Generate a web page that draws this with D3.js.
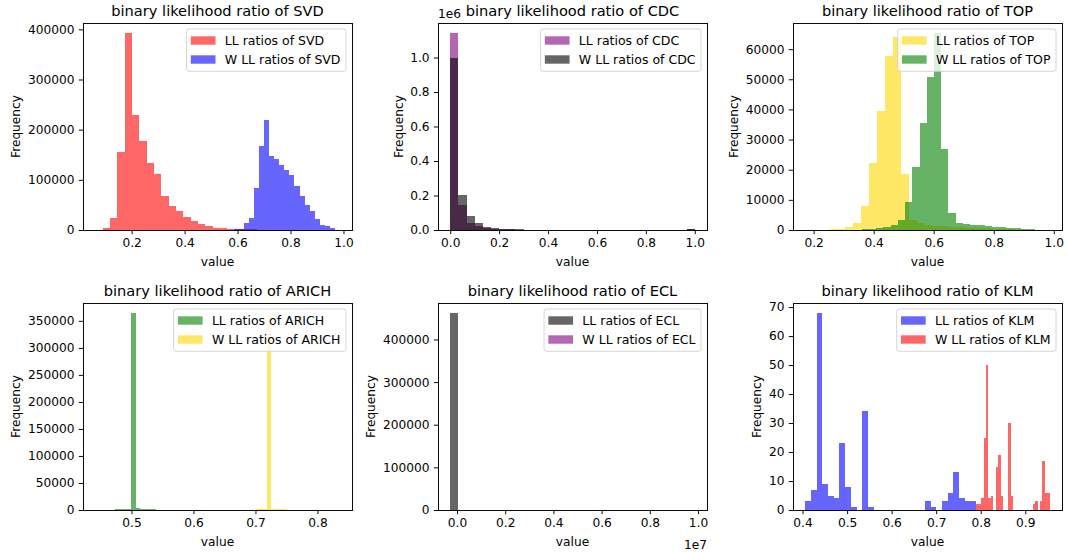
<!DOCTYPE html>
<html>
<head>
<meta charset="utf-8">
<script src="https://cdn.jsdelivr.net/npm/d3@7"></script>
<style>
  body { margin: 0; background: #ffffff; }
  svg { display: block; font-family: "DejaVu Sans", sans-serif; }
</style>
</head>
<body>
<svg id="fig" width="1067" height="553"></svg>
<script>
// ---- histogram data: first/last bin edge and per-bin counts (equal-width bins) ----
const detectors = ["SVD", "CDC", "TOP", "ARICH", "ECL", "KLM"];

const svdLLRange = [0.0626, 0.8936];
const svdLLCounts = [300, 3000, 23000, 155000, 393000, 229000, 178000, 133000, 112000, 68000,
  47000, 37000, 25000, 18000, 11500, 7000, 4000, 3500, 2500, 2000,
  1500, 1000, 600, 400, 250, 150, 100, 50, 30, 10];
const svdWRange = [0.416, 0.986];
const svdWCounts = [20, 30, 50, 80, 120, 200, 300, 500, 800, 1200,
  2000, 13000, 23000, 84000, 168000, 219000, 148000, 141000, 130000, 120000,
  110000, 87000, 67000, 50000, 37000, 21000, 10000, 8000, 4500, 800];

const cdcLLRange = [0, 1];
const cdcLLCounts = [1143000, 145000, 43000, 23000, 12000, 7000, 4000, 3000, 2000, 1200,
  800, 500, 300, 200, 150, 100, 80, 60, 50, 40,
  30, 30, 20, 20, 20, 20, 20, 30, 50, 3000];
const cdcWRange = [0, 1];
const cdcWCounts = [998000, 201000, 80000, 38000, 16000, 10000, 6000, 4000, 3000, 2000,
  1200, 800, 500, 300, 200, 150, 100, 80, 60, 50,
  40, 30, 30, 20, 20, 20, 30, 40, 80, 4000];

const topLLRange = [0.172, 0.973];
const topLLCounts = [20, 40, 80, 200, 400, 1000, 2200, 8100, 22200, 39600,
  57700, 64000, 18600, 3200, 2400, 1800, 1400, 1200, 1000, 900,
  750, 600, 500, 400, 300, 200, 150, 100, 50, 30];
const topWRange = [0.2636, 0.9866];
const topWCounts = [20, 40, 70, 120, 200, 350, 600, 1000, 1800, 3200,
  9300, 21000, 35500, 50800, 65400, 26900, 5650, 2300, 2000, 1700,
  1500, 1300, 1100, 1000, 800, 600, 450, 300, 150, 80];

const arichLLRange = [0.4415, 0.6365];
const arichLLCounts = [0, 0, 0, 300, 800, 1000, 1200, 1500, 2500, 364800,
  3000, 2000, 1500, 1200, 1000, 900, 800, 500, 200, 50,
  30, 20, 10, 10, 5, 5, 5, 5, 5, 5];
const arichWRange = [0.641, 0.836];
const arichWCounts = [5, 5, 5, 5, 5, 10, 50, 300, 800, 1000,
  1200, 2000, 362000, 2500, 1500, 1200, 1000, 900, 700, 300,
  50, 20, 10, 5, 5, 5, 5, 5, 5, 5];

const eclLLRange = [-281000, 9865000];
const eclLLCounts = [462400, 0, 0, 0, 0, 0, 0, 0, 0, 0,
  0, 0, 0, 0, 0, 0, 0, 0, 0, 0,
  0, 0, 0, 0, 0, 0, 0, 0, 0, 1];
const eclWRange = [0, 0];
const eclWCounts = [];

const klmLLRange = [0.406, 0.7897];
const klmLLCounts = [3, 7, 68, 9, 5, 4, 23, 8, 1, 0,
  34, 1, 0, 0, 0, 0, 0, 0, 0, 0,
  0, 3, 1, 0, 3, 6, 13, 4, 3, 3];
const klmWRange = [0.7897, 0.955];
const klmWCounts = [2, 2, 4, 25, 50, 4, 5, 0, 15, 19,
  5, 0, 0, 30, 5, 0, 0, 0, 0, 0,
  0, 0, 0, 2, 3, 0, 3, 17, 6, 6];

// ---- tick labels ----
const svdXTicks = [0.2, 0.4, 0.6, 0.8, 1.0];
const svdYTicks = [0, 100000, 200000, 300000, 400000];
const cdcXTicks = [0.0, 0.2, 0.4, 0.6, 0.8, 1.0];
const cdcYTicks = [0, 200000, 400000, 600000, 800000, 1000000];
const topXTicks = [0.2, 0.4, 0.6, 0.8, 1.0];
const topYTicks = [0, 10000, 20000, 30000, 40000, 50000, 60000];
const arichXTicks = [0.5, 0.6, 0.7, 0.8];
const arichYTicks = [0, 50000, 100000, 150000, 200000, 250000, 300000, 350000];
const eclXTicks = [0, 2000000, 4000000, 6000000, 8000000, 10000000];
const eclYTicks = [0, 100000, 200000, 300000, 400000];
const klmXTicks = [0.4, 0.5, 0.6, 0.7, 0.8, 0.9];
const klmYTicks = [0, 10, 20, 30, 40, 50, 60, 70];

// ---- panel table built from the arrays above ----
const f1 = d => d.toFixed(1);
const fInt = d => String(d);
const panels = [
  { name: detectors[0], xTicks: svdXTicks, xFmt: f1, yTicks: svdYTicks, yFmt: fInt,
    series: [{ range: svdLLRange, counts: svdLLCounts, color: "#ff0000", label: "LL ratios of SVD" },
             { range: svdWRange, counts: svdWCounts, color: "#0000ff", label: "W LL ratios of SVD" }] },
  { name: detectors[1], xTicks: cdcXTicks, xFmt: f1, yTicks: cdcYTicks, yFmt: d => (d / 1e6).toFixed(1), yOffset: "1e6",
    series: [{ range: cdcLLRange, counts: cdcLLCounts, color: "#800080", label: "LL ratios of CDC" },
             { range: cdcWRange, counts: cdcWCounts, color: "#000000", label: "W LL ratios of CDC" }] },
  { name: detectors[2], xTicks: topXTicks, xFmt: f1, yTicks: topYTicks, yFmt: fInt,
    series: [{ range: topLLRange, counts: topLLCounts, color: "#ffd700", label: "LL ratios of TOP" },
             { range: topWRange, counts: topWCounts, color: "#008000", label: "W LL ratios of TOP" }] },
  { name: detectors[3], xTicks: arichXTicks, xFmt: f1, yTicks: arichYTicks, yFmt: fInt,
    series: [{ range: arichLLRange, counts: arichLLCounts, color: "#008000", label: "LL ratios of ARICH" },
             { range: arichWRange, counts: arichWCounts, color: "#ffd700", label: "W LL ratios of ARICH" }] },
  { name: detectors[4], xTicks: eclXTicks, xFmt: d => (d / 1e7).toFixed(1), xOffset: "1e7", yTicks: eclYTicks, yFmt: fInt,
    series: [{ range: eclLLRange, counts: eclLLCounts, color: "#000000", label: "LL ratios of ECL" },
             { range: eclWRange, counts: eclWCounts, color: "#800080", label: "W LL ratios of ECL" }] },
  { name: detectors[5], xTicks: klmXTicks, xFmt: f1, yTicks: klmYTicks, yFmt: fInt,
    series: [{ range: klmLLRange, counts: klmLLCounts, color: "#0000ff", label: "LL ratios of KLM" },
             { range: klmWRange, counts: klmWCounts, color: "#ff0000", label: "W LL ratios of KLM" }] }
];

// ---- layout ----
const svg = d3.select("#fig");
const colX = [83, 438, 793];
const rowY = [23, 303];
const PW = 269, PH = 207;
const FS = 12.2;        // tick / axis-label font size
const LEG_FS = 12.5;    // legend font size
const TITLE_FS = 14.6;
const TICK = 4.2, TPAD = 4.2;
const ALPHA = 0.6;

panels.forEach((p, i) => {
  const ox = colX[i % 3], oy = rowY[Math.floor(i / 3)];
  const g = svg.append("g").attr("transform", `translate(${ox},${oy})`);

  const filled = p.series.filter(s => s.counts.length);
  const lo = d3.min(filled, s => s.range[0]);
  const hi = d3.max(filled, s => s.range[1]);
  const mx = (hi - lo) * 0.05;
  const x = d3.scaleLinear().domain([lo - mx, hi + mx]).range([0, PW]);
  const ymax = d3.max(filled, s => d3.max(s.counts));
  const y = d3.scaleLinear().domain([0, ymax * 1.05]).range([PH, 0]);

  const clipId = `clip${i}`;
  g.append("clipPath").attr("id", clipId).append("rect").attr("width", PW).attr("height", PH);

  // bars
  const plot = g.append("g").attr("clip-path", `url(#${clipId})`);
  p.series.forEach(s => {
    const n = s.counts.length;
    if (!n) return;
    const w = (s.range[1] - s.range[0]) / n;
    const bins = s.counts.map((c, k) => ({ x0: s.range[0] + k * w, x1: s.range[0] + (k + 1) * w, c }));
    plot.append("g").selectAll("rect").data(bins.filter(b => b.c > 0)).join("rect")
      .attr("x", b => x(b.x0))
      .attr("width", b => Math.max(0, x(b.x1) - x(b.x0)))
      .attr("y", b => y(b.c))
      .attr("height", b => PH - y(b.c))
      .attr("fill", s.color)
      .attr("fill-opacity", ALPHA)
      .attr("shape-rendering", "crispEdges");
  });

  // axes
  const xa = g.append("g").attr("transform", `translate(0,${PH})`)
    .call(d3.axisBottom(x).tickValues(p.xTicks).tickFormat(p.xFmt).tickSizeInner(TICK).tickSizeOuter(0).tickPadding(TPAD));
  const ya = g.append("g")
    .call(d3.axisLeft(y).tickValues(p.yTicks).tickFormat(p.yFmt).tickSizeInner(TICK).tickSizeOuter(0).tickPadding(TPAD));
  [xa, ya].forEach(a => {
    a.attr("font-family", null).attr("font-size", FS);
    a.select(".domain").remove();
    a.selectAll(".tick line").attr("stroke", "#000").attr("stroke-width", 0.96);
    a.selectAll(".tick text").attr("fill", "#000");
  });

  // spines
  g.append("rect").attr("width", PW).attr("height", PH)
    .attr("fill", "none").attr("stroke", "#000").attr("stroke-width", 0.96)
    .attr("shape-rendering", "crispEdges");

  // title
  g.append("text").attr("x", PW / 2).attr("y", -7.2)
    .attr("text-anchor", "middle").attr("font-size", TITLE_FS).attr("fill", "#000")
    .text(`binary likelihood ratio of ${p.name}`);

  // x label
  g.append("text").attr("x", PW / 2).attr("y", PH + 35.7)
    .attr("text-anchor", "middle").attr("font-size", FS).attr("fill", "#000").text("value");

  // y label placed left of the widest tick label
  let maxW = 0;
  ya.selectAll(".tick text").each(function () { maxW = Math.max(maxW, this.getComputedTextLength()); });
  const ylx = -TICK - TPAD - maxW - 4.8 - 2.8;
  g.append("text").attr("transform", `translate(${ylx},${PH / 2}) rotate(-90)`)
    .attr("text-anchor", "middle").attr("font-size", FS).attr("fill", "#000").text("Frequency");

  // scale offset labels
  if (p.yOffset) {
    g.append("text").attr("x", 0).attr("y", -4.7).attr("font-size", FS).attr("fill", "#000").text(p.yOffset);
  }
  if (p.xOffset) {
    g.append("text").attr("x", PW).attr("y", PH + 39).attr("text-anchor", "end")
      .attr("font-size", FS).attr("fill", "#000").text(p.xOffset);
  }

  // legend (upper right)
  const lg = g.append("g");
  const box = lg.append("rect");
  const texts = p.series.map((s, k) => {
    const cy = 6 + 11.5 + k * 19;
    lg.append("rect").attr("y", cy - 4.2).attr("height", 8.4).attr("width", 24.7)
      .attr("fill", s.color).attr("fill-opacity", ALPHA).attr("class", "sw");
    return lg.append("text").attr("y", cy + 4.4).attr("font-size", LEG_FS).attr("fill", "#000").text(s.label);
  });
  const tw = d3.max(texts, t => t.node().getComputedTextLength());
  const bw = 38.3 + tw + 5.5;
  const bx = PW - 6 - bw;
  box.attr("x", bx).attr("y", 6).attr("width", bw).attr("height", 42.3)
    .attr("rx", 2.5).attr("fill", "#fff").attr("fill-opacity", 0.8)
    .attr("stroke", "#cccccc").attr("stroke-opacity", 0.8).attr("stroke-width", 1);
  lg.selectAll("rect.sw").attr("x", bx + 4.3);
  texts.forEach(t => t.attr("x", bx + 38.3));
});
</script>
</body>
</html>
